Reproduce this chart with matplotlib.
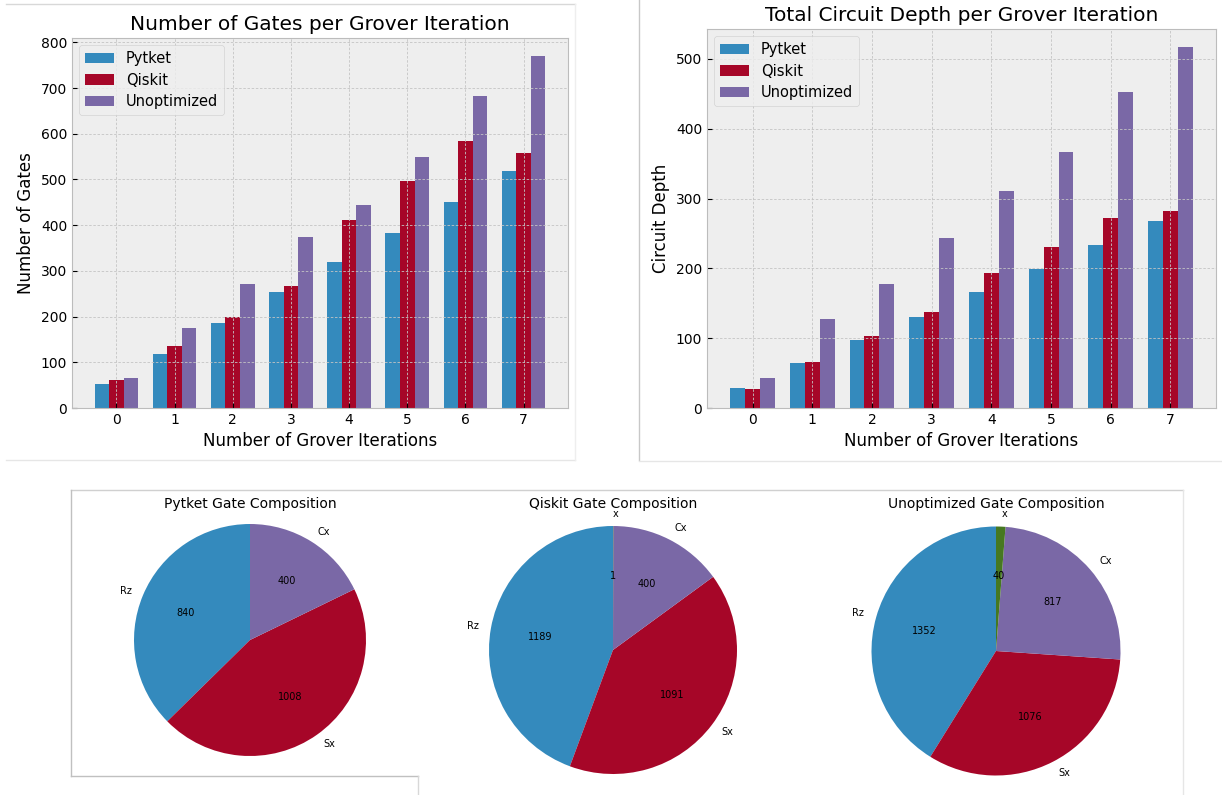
import numpy as np
import matplotlib
matplotlib.use("Agg")
import matplotlib.pyplot as plt
from matplotlib.lines import Line2D

plt.style.use("bmh")

W, H = 1222, 795

iterations = [0, 1, 2, 3, 4, 5, 6, 7]
compilers = ["Pytket", "Qiskit", "Unoptimized"]

# gate counts per Grover iteration
gates_pytket = [52, 119, 186, 253, 320, 383, 451, 518]
gates_qiskit = [62, 135, 200, 268, 411, 497, 585, 558]
gates_unopt = [65, 174, 271, 375, 445, 549, 682, 771]

# circuit depth per Grover iteration
depth_pytket = [29, 64, 97, 131, 166, 199, 233, 268]
depth_qiskit = [27, 66, 103, 137, 193, 231, 272, 282]
depth_unopt = [43, 127, 178, 244, 311, 366, 452, 517]

# gate composition (totals over all iterations)
pytket_labels = ["Rz", "Sx", "Cx"]
pytket_counts = [840, 1008, 400]
qiskit_labels = ["Rz", "Sx", "Cx", "x"]
qiskit_counts = [1189, 1091, 400, 1]
unopt_labels = ["Rz", "Sx", "Cx", "x"]
unopt_counts = [1352, 1076, 817, 40]


def px_axes(fig, left, top, right, bottom):
    return fig.add_axes([left / W, 1 - bottom / H, (right - left) / W, (bottom - top) / H])


def px_line(fig, xs, ys, color="#c8c8c8", lw=1.0):
    fig.add_artist(Line2D([x / W for x in xs], [1 - y / H for y in ys],
                          color=color, lw=lw, transform=fig.transFigure))


def grouped_bars(ax, series, title, ylabel):
    x = np.arange(len(iterations))
    width = 0.25
    for i, (name, vals) in enumerate(zip(compilers, series)):
        ax.bar(x + (i - 1) * width, vals, width, label=name)
    ax.set_xticks(x)
    ax.set_xticklabels([str(i) for i in iterations])
    ax.tick_params(labelsize=10)
    ax.grid(True, color="#c4c4c4", linestyle=(0, (3, 2)), linewidth=0.6)
    ax.set_title(title, fontsize=14.5)
    ax.set_xlabel("Number of Grover Iterations", fontsize=12)
    ax.set_ylabel(ylabel, fontsize=12)
    ax.legend(loc="upper left", fontsize=10.5, labelspacing=0.45)


fig = plt.figure(figsize=(W / 100, H / 100), dpi=100)
fig.patch.set_facecolor("white")

ax1 = px_axes(fig, 72, 38, 568, 408)
grouped_bars(ax1, [gates_pytket, gates_qiskit, gates_unopt],
             "Number of Gates per Grover Iteration", "Number of Gates")

ax2 = px_axes(fig, 707, 29, 1216, 408)
grouped_bars(ax2, [depth_pytket, depth_qiskit, depth_unopt],
             "Total Circuit Depth per Grover Iteration", "Circuit Depth")


def composition_pie(cx, cy, r, labels, counts, title):
    side = 2.5 * r
    ax = px_axes(fig, cx - side / 2, cy - side / 2, cx + side / 2, cy + side / 2)
    total = sum(counts)
    ax.pie(counts, labels=labels, startangle=90,
           autopct=lambda p: f"{round(p * total / 100)}",
           textprops={"fontsize": 7})
    fig.text(cx / W, 1 - 504 / H, title, ha="center", va="center", fontsize=10)
    return ax


composition_pie(250, 640, 116, pytket_labels, pytket_counts, "Pytket Gate Composition")
composition_pie(613, 650, 124, qiskit_labels, qiskit_counts, "Qiskit Gate Composition")
composition_pie(996, 651, 124.5, unopt_labels, unopt_counts, "Unoptimized Gate Composition")

# panel borders
px_line(fig, [6, 575], [4, 4], color="#d8d8d8")
px_line(fig, [6, 575], [460, 460], color="#e6e6e6")
px_line(fig, [575, 575], [4, 460], color="#eeeeee")
px_line(fig, [639, 639], [0, 460], color="#c8c8c8")
px_line(fig, [639, 1222], [461, 461], color="#e6e6e6")
px_line(fig, [71, 1183], [490, 490], color="#d0d0d0")
px_line(fig, [71, 71], [490, 776], color="#c0c0c0")
px_line(fig, [71, 418], [776, 776], color="#c0c0c0")
px_line(fig, [418, 418], [776, 795], color="#d8d8d8")
px_line(fig, [1183, 1183], [490, 795], color="#e6e6e6")

fig.savefig("out.png", dpi=100)
